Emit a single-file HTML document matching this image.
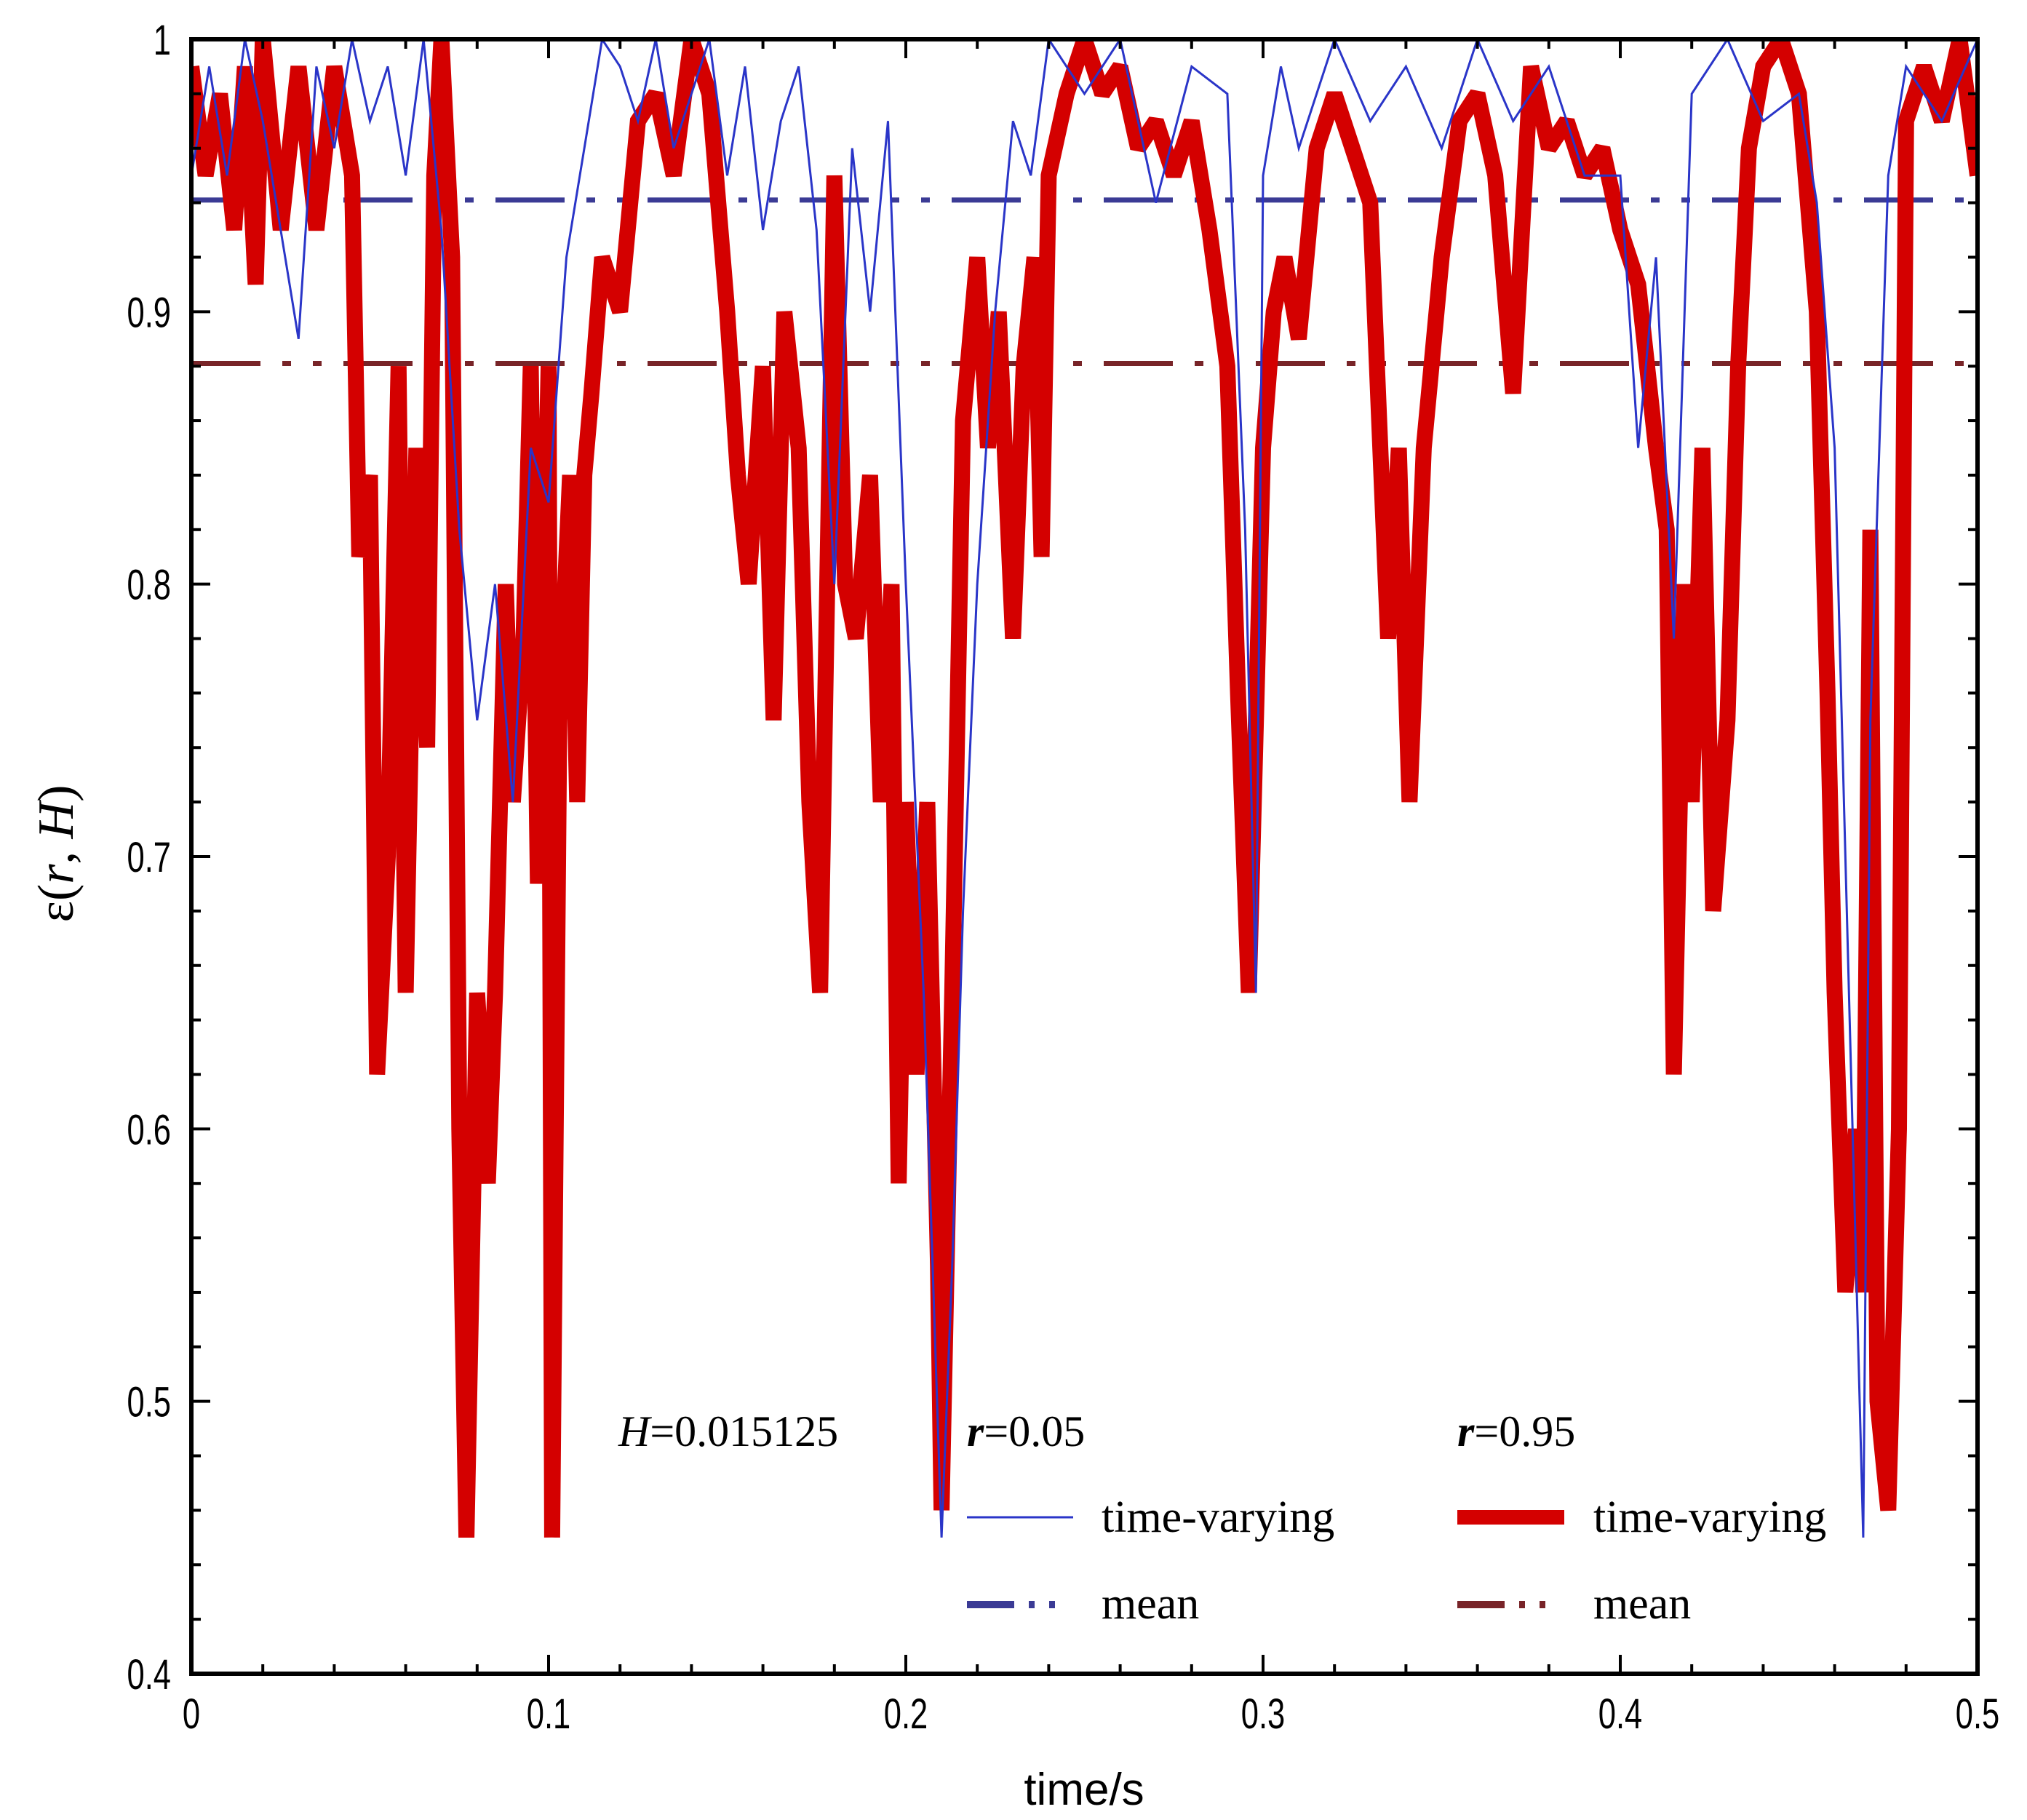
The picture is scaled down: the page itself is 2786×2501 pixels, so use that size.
<!DOCTYPE html>
<html><head><meta charset="utf-8"><style>
html,body{margin:0;padding:0;background:#fff;}
svg{display:block;}
text{font-family:"Liberation Sans",sans-serif;}
.serif{font-family:"Liberation Serif",serif;}
</style></head><body>
<svg id="chart" width="2786" height="2501" viewBox="0 0 2786 2501">
<g id="plot"></g>
</svg>
<script>
const xTicks=[0,0.1,0.2,0.3,0.4,0.5];
const xTickLabels=["0","0.1","0.2","0.3","0.4","0.5"];
const yTicks=[0.4,0.5,0.6,0.7,0.8,0.9,1];
const yTickLabels=["0.4","0.5","0.6","0.7","0.8","0.9","1"];
const redT=[0,0.004,0.008,0.012,0.015,0.018,0.02,0.025,0.03,0.035,0.04,0.045,0.047,0.05,0.052,0.055,0.058,0.06,0.063,0.066,0.068,0.07,0.073,0.075,0.077,0.08,0.083,0.085,0.088,0.09,0.093,0.095,0.097,0.1,0.101,0.103,0.106,0.108,0.11,0.112,0.115,0.12,0.125,0.13,0.135,0.14,0.145,0.15,0.153,0.156,0.16,0.163,0.166,0.17,0.173,0.176,0.18,0.183,0.186,0.19,0.193,0.196,0.198,0.2,0.203,0.206,0.209,0.21,0.213,0.216,0.22,0.223,0.226,0.23,0.233,0.236,0.238,0.24,0.245,0.25,0.255,0.26,0.265,0.27,0.275,0.28,0.285,0.29,0.293,0.296,0.3,0.303,0.306,0.31,0.315,0.32,0.325,0.33,0.335,0.338,0.341,0.345,0.35,0.355,0.36,0.365,0.37,0.375,0.38,0.385,0.39,0.395,0.4,0.405,0.41,0.413,0.415,0.418,0.42,0.423,0.426,0.43,0.433,0.436,0.44,0.445,0.45,0.455,0.458,0.46,0.463,0.466,0.468,0.47,0.472,0.475,0.478,0.48,0.485,0.49,0.495,0.5];
const redV=[0.99,0.95,0.98,0.93,0.99,0.91,1.0,0.93,0.99,0.93,0.99,0.95,0.81,0.84,0.62,0.7,0.88,0.65,0.85,0.74,0.95,1.0,0.92,0.6,0.45,0.65,0.58,0.65,0.8,0.72,0.78,0.88,0.69,0.88,0.45,0.75,0.84,0.72,0.84,0.87,0.92,0.9,0.97,0.98,0.95,1.0,0.98,0.9,0.84,0.8,0.88,0.75,0.9,0.85,0.72,0.65,0.95,0.8,0.78,0.84,0.72,0.8,0.58,0.72,0.62,0.72,0.55,0.46,0.65,0.86,0.92,0.85,0.9,0.78,0.88,0.92,0.81,0.95,0.98,1.0,0.98,0.99,0.96,0.97,0.95,0.97,0.93,0.88,0.76,0.65,0.85,0.9,0.92,0.89,0.96,0.98,0.96,0.94,0.78,0.85,0.72,0.85,0.92,0.97,0.98,0.95,0.87,0.99,0.96,0.97,0.95,0.96,0.93,0.91,0.85,0.82,0.62,0.8,0.72,0.85,0.68,0.75,0.88,0.96,0.99,1.0,0.98,0.9,0.76,0.65,0.54,0.6,0.54,0.82,0.5,0.46,0.6,0.97,0.99,0.97,1.0,0.95];
const blueT=[0,0.005,0.01,0.015,0.02,0.025,0.03,0.035,0.04,0.045,0.05,0.055,0.06,0.065,0.07,0.075,0.08,0.085,0.09,0.095,0.1,0.105,0.11,0.115,0.12,0.125,0.13,0.135,0.14,0.145,0.15,0.155,0.16,0.165,0.17,0.175,0.18,0.185,0.19,0.195,0.2,0.205,0.21,0.213,0.216,0.22,0.225,0.23,0.235,0.24,0.25,0.26,0.27,0.28,0.29,0.295,0.298,0.3,0.305,0.31,0.32,0.33,0.34,0.35,0.36,0.37,0.38,0.39,0.4,0.405,0.41,0.415,0.42,0.43,0.44,0.45,0.455,0.46,0.465,0.468,0.47,0.475,0.48,0.49,0.5];
const blueV=[0.95,0.99,0.95,1.0,0.97,0.93,0.89,0.99,0.96,1.0,0.97,0.99,0.95,1.0,0.93,0.82,0.75,0.8,0.72,0.85,0.83,0.92,0.96,1.0,0.99,0.97,1.0,0.96,0.98,1.0,0.95,0.99,0.93,0.97,0.99,0.93,0.8,0.96,0.9,0.97,0.8,0.65,0.45,0.55,0.68,0.8,0.9,0.97,0.95,1.0,0.98,1.0,0.94,0.99,0.98,0.82,0.65,0.95,0.99,0.96,1.0,0.97,0.99,0.96,1.0,0.97,0.99,0.95,0.95,0.85,0.92,0.78,0.98,1.0,0.97,0.98,0.94,0.85,0.6,0.45,0.75,0.95,0.99,0.97,1.0];
const meanBlue=[0.941];
const meanRed=[0.881];

const NS="http://www.w3.org/2000/svg";
const L=263,R=2718,T=54,B=2300;
const X=t=>L+(t-0)/(0.5-0)*(R-L);
const Y=v=>B-(v-0.4)/(1-0.4)*(B-T);
const g=document.getElementById('plot');
function mk(tag,attrs,parent){const e=document.createElementNS(NS,tag);for(const k in attrs)e.setAttribute(k,attrs[k]);(parent||g).appendChild(e);return e;}
const clip=mk('clipPath',{id:'cp'});mk('rect',{x:L,y:T,width:R-L,height:B-T},clip);

let el=mk('line',{x1:L,x2:R,y1:Y(meanBlue[0]),y2:Y(meanBlue[0]),stroke:'#3b3b95','stroke-width':7,'stroke-dasharray':'95 30 12 30 12 30'});


el=mk('line',{x1:L,x2:R,y1:Y(meanRed[0]),y2:Y(meanRed[0]),stroke:'#782428','stroke-width':7,'stroke-dasharray':'95 30 12 30 12 30'});



function pts(ts,vs){return ts.map((t,i)=>X(t).toFixed(1)+','+Y(vs[i]).toFixed(1)).join(' ');}
el=mk('polyline',{points:pts(redT,redV),fill:'none',stroke:'#d40000','stroke-width':22,'stroke-linejoin':'miter','stroke-miterlimit':2,'clip-path':'url(#cp)'});


el=mk('polyline',{points:pts(blueT,blueV),fill:'none',stroke:'#2a35c8','stroke-width':3,'clip-path':'url(#cp)'});



el=mk('rect',{x:L,y:T,width:R-L,height:B-T,fill:'none',stroke:'#000','stroke-width':6});



for(let k=0;k<=25;k++){const t=k*0.02,x=X(t),len=(k%5===0)?26:13;
 mk('line',{x1:x,x2:x,y1:B,y2:B-len,stroke:'#000','stroke-width':4});
 mk('line',{x1:x,x2:x,y1:T,y2:T+len,stroke:'#000','stroke-width':4});}
for(let k=0;k<=30;k++){const v=0.4+k*0.02,y=Y(v),len=(k%5===0)?26:13;
 mk('line',{x1:L,x2:L+len,y1:y,y2:y,stroke:'#000','stroke-width':4});
 mk('line',{x1:R,x2:R-len,y1:y,y2:y,stroke:'#000','stroke-width':4});}
xTicks.forEach((t,i)=>{const e=mk('text',{x:X(t),y:2375,'text-anchor':'middle','font-size':58,transform:`translate(${X(t)},0) scale(0.75,1) translate(${-X(t)},0)`});e.textContent=xTickLabels[i];
 
 });
yTicks.forEach((v,i)=>{const e=mk('text',{x:235,y:Y(v)+21,'text-anchor':'end','font-size':58,transform:`translate(235,0) scale(0.75,1) translate(-235,0)`});e.textContent=yTickLabels[i];
 
 });
</script>
<svg width="2786" height="2501" style="position:absolute;left:0;top:0">
<text x="1490" y="2480" text-anchor="middle" font-size="62">time/s</text>
<text class="serif" transform="translate(100,1173) rotate(-90)" text-anchor="middle" font-size="70">ε(<tspan font-style="italic">r</tspan>, <tspan font-style="italic">H</tspan>)</text>
<text class="serif" x="850" y="1987" font-size="60"><tspan font-style="italic">H</tspan>=0.015125</text>
<g>
<text class="serif" x="1329" y="1987" font-size="60"><tspan font-style="italic" font-weight="bold">r</tspan>=0.05</text>
<text class="serif" x="2003" y="1987" font-size="60"><tspan font-style="italic" font-weight="bold">r</tspan>=0.95</text>
<line x1="1329" x2="1475" y1="2085" y2="2085" stroke="#2a35c8" stroke-width="3"/>
<text class="serif" x="1514" y="2105" font-size="62">time-varying</text>
<line x1="2003" x2="2150" y1="2085" y2="2085" stroke="#d40000" stroke-width="20"/>
<text class="serif" x="2190" y="2105" font-size="62">time-varying</text>
<line x1="1329" x2="1462" y1="2205" y2="2205" stroke="#3b3b95" stroke-width="10" stroke-dasharray="65 20 8 20 8 30"/>
<text class="serif" x="1514" y="2224" font-size="62">mean</text>
<line x1="2003" x2="2136" y1="2205" y2="2205" stroke="#782428" stroke-width="10" stroke-dasharray="65 20 8 20 8 30"/>
<text class="serif" x="2190" y="2224" font-size="62">mean</text>
</g>
</svg>
</body></html>
